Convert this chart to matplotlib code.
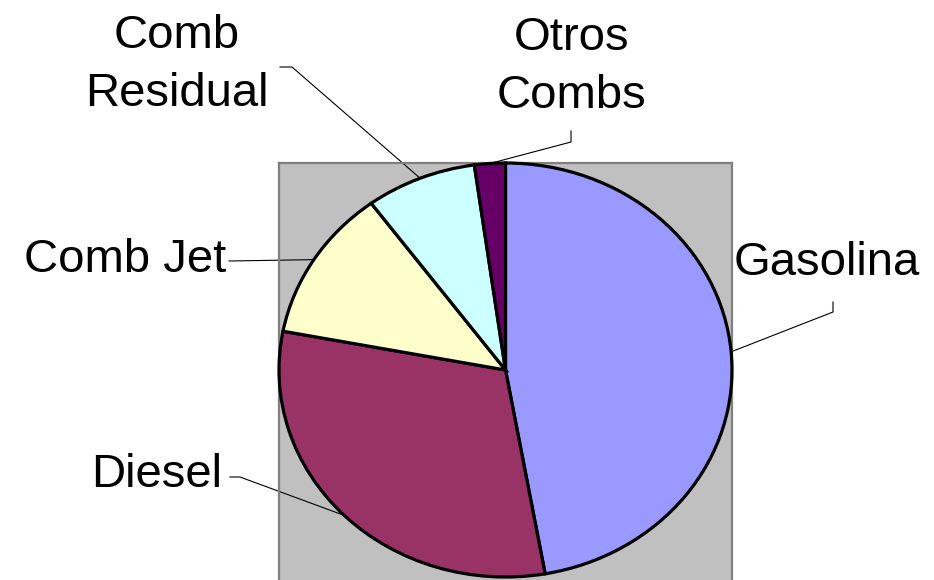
import numpy as np
import matplotlib.pyplot as plt

etiquetas = ["Gasolina", "Diesel", "Comb Jet", "Comb\nResidual", "Otros\nCombs"]
valores = [47.2, 30.8, 11.9, 7.9, 2.2]
colores = ["#9999FF", "#993366", "#FFFFCC", "#CCFFFF", "#660066"]

W, H = 934, 580
cx, cy = 505.5, 370.0   # centro de la torta en pixeles (desde arriba)
rx, ry = 226.5, 207.0   # radios en pixeles

def px(x, y):
    # pixeles de la imagen -> coordenadas de datos
    return (x - cx) / rx, (cy - y) / ry

fig = plt.figure(figsize=(W / 100, H / 100), dpi=100)
ax = fig.add_axes([(cx - rx) / W, -5 / H, 2 * rx / W, (H - (cy - ry) + 5) / H])
ax.set_facecolor("#C0C0C0")

wedges, _ = ax.pie(valores, colors=colores, startangle=90, counterclock=False,
                   radius=1, frame=True,
                   wedgeprops=dict(edgecolor="black", linewidth=2.3))
for w in wedges:
    w.set_clip_on(False)
    w.set_zorder(3)
ax.set_aspect("auto")
ax.set_xlim(-1, 1)
ax.set_ylim(1 - (H + 5 - (cy - ry)) / ry, 1)
ax.set_xticks([])
ax.set_yticks([])
for s in ax.spines.values():
    s.set_color("#808080")
    s.set_linewidth(1.6)

# posicion de textos (pixeles): x, linea base de la primera linea, alineacion
pos_texto = [(734, 275, "left"), (222, 487, "right"), (226, 272, "right"),
             (177, 48, "center"), (572, 50, "center")]
# codos de las lineas guia (pixeles)
codos = [[(833, 302), (833, 312)], [(230, 477), (240, 477)], [(229, 261)],
         [(280, 67), (292, 67)], [(571, 131), (571, 142)]]

for w, lab, (tx, ty, ha), codo in zip(wedges, etiquetas, pos_texto, codos):
    ang = np.deg2rad((w.theta1 + w.theta2) / 2)
    ax_, ay_ = np.cos(ang), np.sin(ang)
    pts = [px(*p) for p in codo] + [(ax_, ay_)]
    xs, ys = zip(*pts)
    ax.plot(xs, ys, color="black", lw=0.8, clip_on=False)
    for i, linea in enumerate(lab.split("\n")):
        x, y = px(tx, ty + i * 58)
        ax.text(x, y, linea, ha=ha, va="baseline", fontsize=34,
                family="Liberation Sans", clip_on=False)

fig.savefig("out.png", dpi=100)
